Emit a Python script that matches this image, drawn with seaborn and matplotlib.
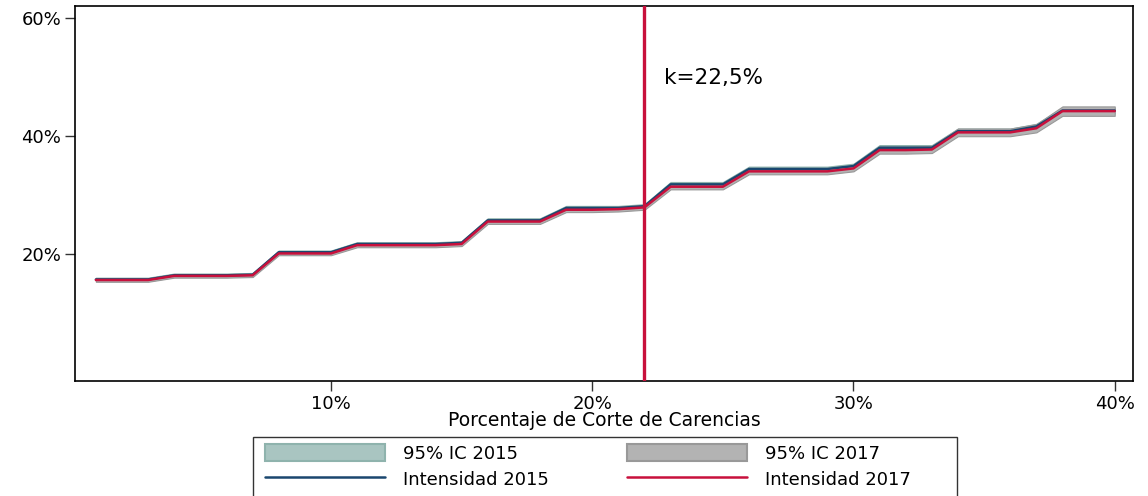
import numpy as np
import pandas as pd
import matplotlib
matplotlib.use("Agg")
import matplotlib.pyplot as plt
from matplotlib.patches import Patch, Rectangle
from matplotlib.lines import Line2D
from matplotlib.ticker import FuncFormatter
import seaborn as sns

# Cut-off percentage of deprivations (k, in %)
corte = list(range(1, 41))

# Average intensity (%) by cut-off, 2015 and 2017
intensidad_2015 = [15.7, 15.7, 15.7, 16.4, 16.4, 16.4, 16.5, 20.3, 20.3, 20.3,
                   21.7, 21.7, 21.7, 21.7, 21.9, 25.7, 25.7, 25.7, 27.8, 27.8,
                   27.8, 28.1, 31.8, 31.8, 31.8, 34.4, 34.4, 34.4, 34.4, 34.9,
                   38.0, 38.0, 38.0, 40.8, 40.8, 40.8, 41.6, 44.3, 44.3, 44.3]
intensidad_2017 = [15.6, 15.6, 15.6, 16.3, 16.3, 16.3, 16.4, 20.1, 20.1, 20.1,
                   21.5, 21.5, 21.5, 21.5, 21.7, 25.5, 25.5, 25.5, 27.5, 27.5,
                   27.6, 27.9, 31.4, 31.4, 31.4, 34.0, 34.0, 34.0, 34.0, 34.5,
                   37.6, 37.6, 37.7, 40.6, 40.6, 40.6, 41.3, 44.2, 44.2, 44.2]

# Half-width of the 95% confidence intervals (percentage points)
margen_2015 = [0.3, 0.3, 0.3, 0.3, 0.3, 0.3, 0.3, 0.3, 0.3, 0.3,
               0.3, 0.3, 0.3, 0.3, 0.3, 0.35, 0.35, 0.35, 0.35, 0.35,
               0.35, 0.35, 0.4, 0.4, 0.4, 0.4, 0.4, 0.4, 0.4, 0.4,
               0.45, 0.45, 0.45, 0.45, 0.45, 0.45, 0.45, 0.5, 0.5, 0.5]
margen_2017 = [0.3, 0.3, 0.3, 0.3, 0.3, 0.3, 0.3, 0.3, 0.3, 0.3,
               0.35, 0.35, 0.35, 0.35, 0.35, 0.4, 0.4, 0.4, 0.4, 0.4,
               0.4, 0.4, 0.45, 0.45, 0.45, 0.5, 0.5, 0.5, 0.5, 0.5,
               0.6, 0.6, 0.6, 0.65, 0.65, 0.65, 0.7, 0.8, 0.8, 0.8]

k_elegido = 22
k_texto = "k=22,5%"

x_ticks = [10, 20, 30, 40]
y_ticks = [20, 40, 60]

C_AZUL = "#1a476f"
C_ROJO = "#c8103c"
C_IC15 = "#a9c5c1"
C_IC15_BORDE = "#8fb3ad"
C_IC17 = "#b3b3b3"
C_IC17_BORDE = "#999999"

sns.set_theme(style="white")
plt.rcParams["font.family"] = ["DejaVu Sans"]
plt.rcParams["text.color"] = "black"
plt.rcParams["axes.labelcolor"] = "black"
plt.rcParams["xtick.color"] = "black"
plt.rcParams["ytick.color"] = "black"

df = pd.DataFrame({
    "k": corte * 2,
    "intensidad": intensidad_2015 + intensidad_2017,
    "año": ["2015"] * len(corte) + ["2017"] * len(corte),
})

W, H = 1148, 496
fig = plt.figure(figsize=(W / 100, H / 100), dpi=100)
ax = fig.add_axes([75 / W, 1 - 381 / H, (1133 - 75) / W, (381 - 6) / H])

x = np.array(corte)
lo15 = np.array(intensidad_2015) - np.array(margen_2015)
hi15 = np.array(intensidad_2015) + np.array(margen_2015)
lo17 = np.array(intensidad_2017) - np.array(margen_2017)
hi17 = np.array(intensidad_2017) + np.array(margen_2017)

ax.fill_between(x, lo15, hi15, facecolor=C_IC15, edgecolor=C_IC15_BORDE, linewidth=0.8, zorder=1)
ax.fill_between(x, lo17, hi17, facecolor=C_IC17, edgecolor=C_IC17_BORDE, linewidth=0.8, zorder=2)

sns.lineplot(data=df, x="k", y="intensidad", hue="año",
             palette={"2015": C_AZUL, "2017": C_ROJO},
             linewidth=1.8, legend=False, ax=ax, zorder=3)

ax.axvline(k_elegido, color=C_ROJO, linewidth=2.4, zorder=4)
ax.text(k_elegido + 0.75, 49.8, k_texto, fontsize=15.5, ha="left", va="center", color="black")

ax.set_xlim(0.2, 40.7)
ax.set_ylim(-1.5, 62.0)
ax.set_xticks(x_ticks)
ax.set_yticks(y_ticks)
ax.xaxis.set_major_formatter(FuncFormatter(lambda v, p: f"{v:.0f}%"))
ax.yaxis.set_major_formatter(FuncFormatter(lambda v, p: f"{v:.0f}%"))
ax.tick_params(axis="both", which="major", direction="out", length=7, width=1.0,
               color="#333333", labelsize=13, pad=3, bottom=True, left=True)
ax.set_xlabel("Porcentaje de Corte de Carencias", fontsize=13.5, labelpad=-1)
ax.set_ylabel("")
for s in ax.spines.values():
    s.set_color("black")
    s.set_linewidth(1.2)

# Legend: two columns placed side by side inside a common frame
leg_kw = dict(loc="upper left", fontsize=13, frameon=False,
              handlelength=6.65, handleheight=1.05, handletextpad=1.0,
              labelspacing=0.42, borderpad=0, borderaxespad=0)
fila_sup = 1 - 444 / H
fig.legend([Patch(facecolor=C_IC15, edgecolor=C_IC15_BORDE, linewidth=1.5),
            Line2D([0], [0], color=C_AZUL, linewidth=1.8)],
           ["95% IC 2015", "Intensidad 2015"],
           bbox_to_anchor=(265 / W, fila_sup), **leg_kw)
fig.legend([Patch(facecolor=C_IC17, edgecolor=C_IC17_BORDE, linewidth=1.5),
            Line2D([0], [0], color=C_ROJO, linewidth=1.8)],
           ["95% IC 2017", "Intensidad 2017"],
           bbox_to_anchor=(627 / W, fila_sup), **leg_kw)
fig.patches.append(Rectangle((253 / W, -0.02), (957 - 253) / W, (H - 437) / H + 0.02,
                             transform=fig.transFigure, fill=False,
                             edgecolor="#333333", linewidth=1.0))

fig.savefig("out.png", dpi=100)
